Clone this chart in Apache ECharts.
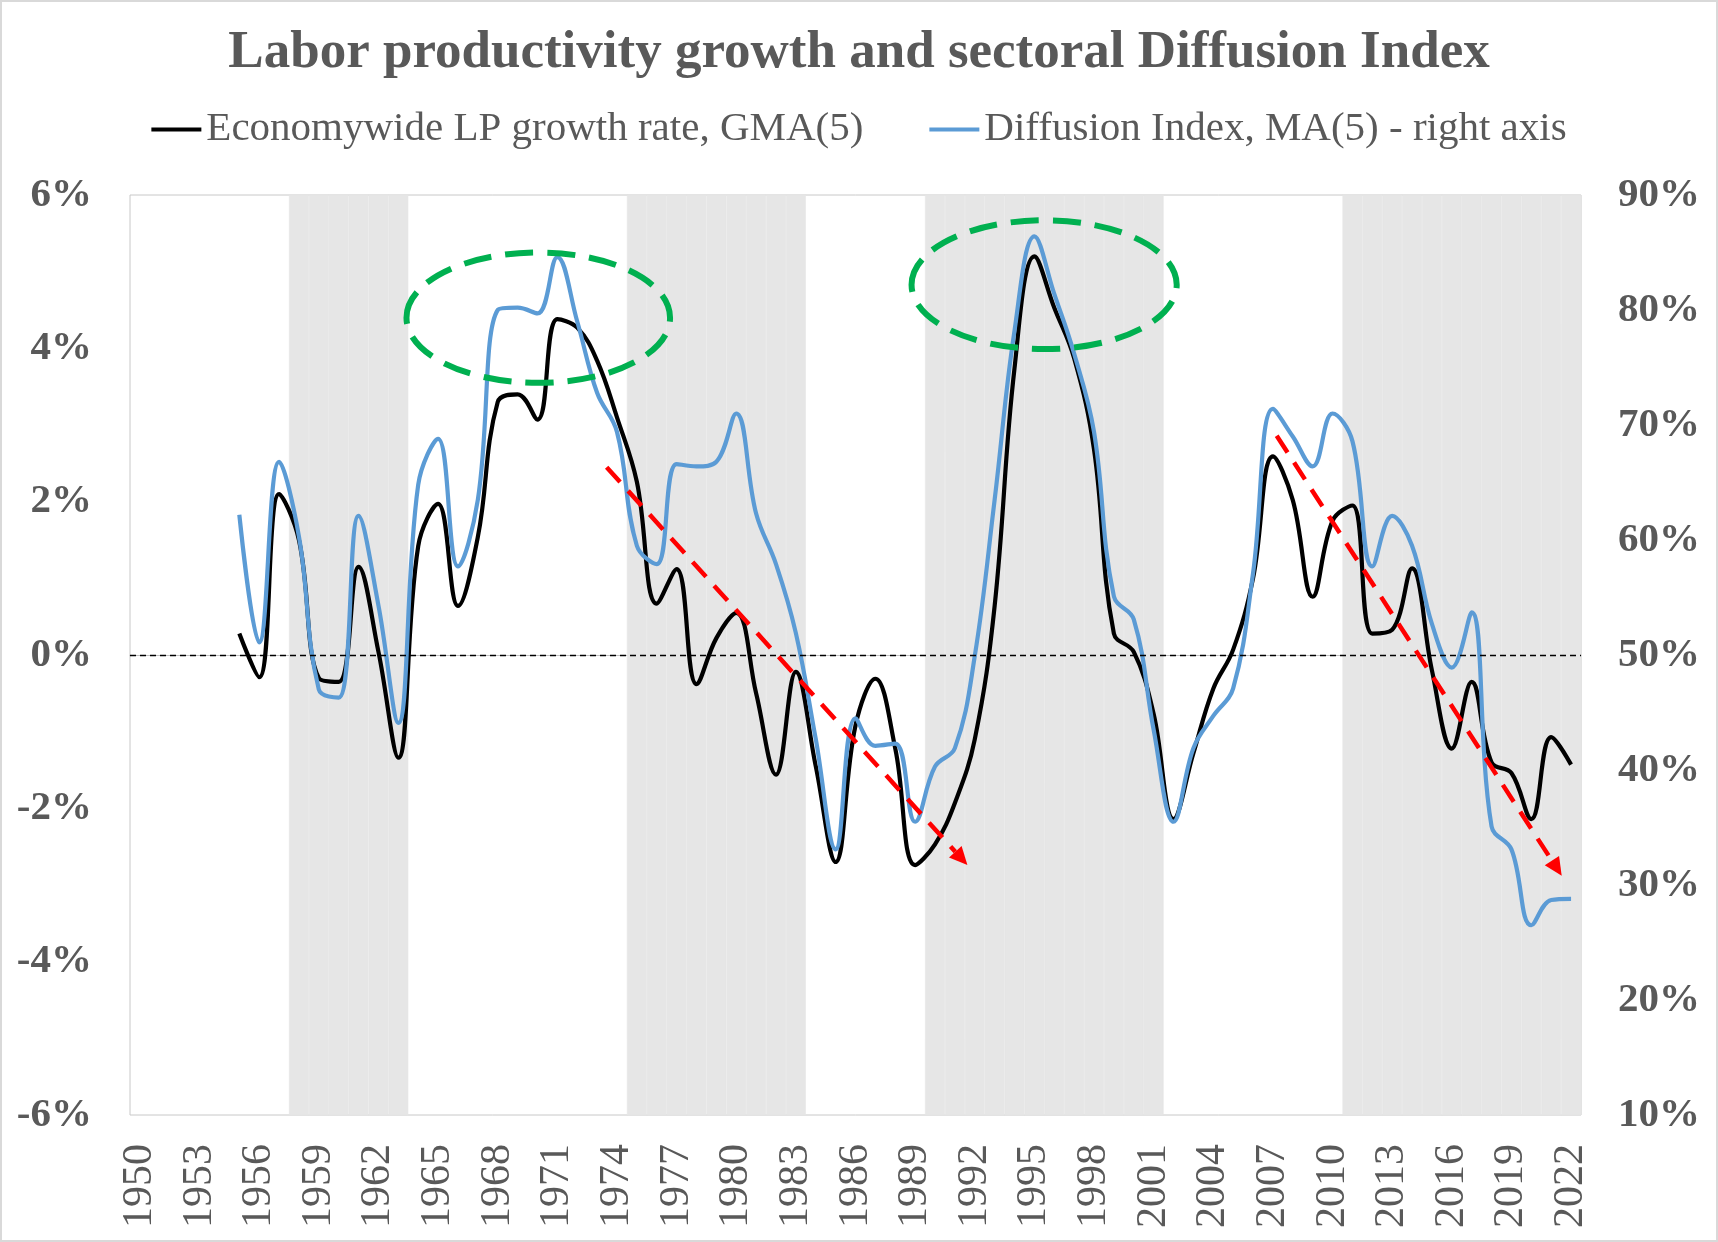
<!DOCTYPE html>
<html>
<head>
<meta charset="utf-8">
<script src="https://cdn.jsdelivr.net/npm/echarts@6/dist/echarts.min.js"></script>
<style>
html,body{margin:0;padding:0;background:#fff;}
#c{width:1718px;height:1242px;}
</style>
</head>
<body>
<div id="c"></div>
<script>
// ---------- DATA ----------
const years = ['1950','1951','1952','1953','1954','1955','1956','1957','1958','1959',
  '1960','1961','1962','1963','1964','1965','1966','1967','1968','1969',
  '1970','1971','1972','1973','1974','1975','1976','1977','1978','1979',
  '1980','1981','1982','1983','1984','1985','1986','1987','1988','1989',
  '1990','1991','1992','1993','1994','1995','1996','1997','1998','1999',
  '2000','2001','2002','2003','2004','2005','2006','2007','2008','2009',
  '2010','2011','2012','2013','2014','2015','2016','2017','2018','2019',
  '2020','2021','2022'];

// Economywide LP growth rate, GMA(5), % (left axis)
const lpGrowth = [null,null,null,null,null,
  0.28,-0.29,2.10,1.50,-0.30,
  -0.35,1.15,0.04,-1.34,1.42,1.97,0.64,1.54,3.30,3.40,
  3.07,4.38,4.27,3.84,3.10,2.26,0.67,1.12,-0.38,0.22,
  0.55,-0.50,-1.56,-0.22,-1.45,-2.70,-0.92,-0.31,-1.22,-2.74,
  -2.47,-1.93,-1.10,0.64,3.74,5.20,4.53,3.87,2.68,0.28,
  0.04,-0.77,-2.14,-1.28,-0.44,0.07,1.00,2.59,2.02,0.76,
  1.75,1.95,0.28,0.33,1.13,-0.20,-1.22,-0.35,-1.40,-1.54,
  -2.14,-1.07,-1.43];

// Diffusion Index, MA(5), % (right axis)
const diffusion = [null,null,null,null,null,
  62.2,51.1,66.8,60.3,47.0,
  46.3,62.1,54.3,44.1,64.8,68.8,57.7,63.5,80.0,80.2,
  79.7,84.6,79.0,72.8,69.4,59.5,57.9,66.6,66.4,66.8,
  71.0,62.3,57.9,51.9,42.7,33.1,44.5,42.1,42.3,35.5,
  40.3,41.9,49.9,63.5,78.2,86.4,81.4,76.2,69.4,55.1,
  53.1,43.5,35.5,41.9,44.7,47.1,57.1,71.4,69.0,66.4,
  71.0,68.6,57.7,62.1,59.5,52.7,48.9,53.7,35.1,33.1,
  26.5,28.7,28.8];

// shaded periods (first year, last year)
const shadedPeriods = [['1958','1963'],['1975','1983'],['1990','2001'],['2011','2022']];

// axis ticks
const leftTicks = {min:-6, max:6, step:2};
const rightTicks = {min:10, max:90, step:10};

// annotations (in data units: year, left-axis %)
const ellipseNotes = [
  {year:1970.04, value:4.40, halfYears:6.63, halfValue:0.85},
  {year:1995.49, value:4.83, halfYears:6.67, halfValue:0.84}
];
const arrowNotes = [
  {from:[1973.48, 2.45], to:[1991.63, -2.74]},
  {from:[2007.19, 2.86], to:[2021.53, -2.88]}
];

// ---------- CHART ----------
const shade = years.map(y => shadedPeriods.some(p => +y >= +p[0] && +y <= +p[1]) ? 1 : null);

const FONT = 'Liberation Serif';
const GRAY = '#595959';
const chart = echarts.init(document.getElementById('c'), null, {renderer:'canvas'});

const option = {
  backgroundColor:'#ffffff',
  animation:false,
  title:{
    text:'Labor productivity growth and sectoral Diffusion Index',
    left:'center', top:22,
    textStyle:{fontFamily:FONT, fontWeight:'bold', fontSize:53, color:GRAY}
  },
  legend:{
    data:['Economywide LP growth rate, GMA(5)','Diffusion Index, MA(5) - right axis'],
    top:104, left:'center',
    icon:'rect', itemWidth:50, itemHeight:4, itemGap:66,
    textStyle:{fontFamily:FONT, fontSize:41, color:GRAY}
  },
  grid:{left:130, right:137, top:195, bottom:127, containLabel:false, outerBoundsMode:'none',
        show:true, borderColor:'#c8c8c8', borderWidth:1, backgroundColor:'transparent'},
  xAxis:[
    {type:'category', data:years, boundaryGap:true,
     axisLine:{show:true, lineStyle:{color:'#bfbfbf', width:1}},
     axisTick:{show:false},
     axisLabel:{interval:2, rotate:90, color:GRAY, fontFamily:FONT, fontSize:42, margin:29},
     splitLine:{show:false}},
    {type:'value', min:1949.5, max:2022.5, show:false, splitLine:{show:false}}
  ],
  yAxis:[
    {type:'value', min:leftTicks.min, max:leftTicks.max, interval:leftTicks.step, position:'left',
     axisLine:{show:false}, axisTick:{show:false}, splitLine:{show:false},
     axisLabel:{formatter:'{value}%', color:GRAY, fontFamily:FONT, fontWeight:'bold', fontSize:41, margin:38}},
    {type:'value', min:rightTicks.min, max:rightTicks.max, interval:rightTicks.step, position:'right',
     axisLine:{show:false}, axisTick:{show:false}, splitLine:{show:false},
     axisLabel:{formatter:'{value}%', color:GRAY, fontFamily:FONT, fontWeight:'bold', fontSize:41, margin:37}},
    {type:'value', min:0, max:1, show:false, splitLine:{show:false}}
  ],
  series:[
    {name:'shade', type:'bar', xAxisIndex:0, yAxisIndex:2, data:shade,
     barWidth:'100%', barCategoryGap:'0%', silent:true, z:1,
     itemStyle:{color:'#e6e6e6', borderColor:'#e6e6e6', borderWidth:0.6}},
    {name:'Economywide LP growth rate, GMA(5)', type:'line', xAxisIndex:0, yAxisIndex:0,
     data:lpGrowth, smooth:0.4, symbol:'none', z:3,
     itemStyle:{color:'#000000'},
     lineStyle:{color:'#000000', width:4.2},
     markLine:{silent:true, symbol:'none', label:{show:false},
       lineStyle:{color:'#000000', width:1.3, type:[6,4]},
       data:[{yAxis:0}]}},
    {name:'Diffusion Index, MA(5) - right axis', type:'line', xAxisIndex:0, yAxisIndex:1,
     data:diffusion, smooth:0.4, symbol:'none', z:4,
     itemStyle:{color:'#5b9bd5'},
     lineStyle:{color:'#5b9bd5', width:4.2}}
  ]
};
chart.setOption(option);

// ---------- ANNOTATIONS ----------
function px(year, val){
  const x = chart.convertToPixel({xAxisIndex:1}, year);
  const y = chart.convertToPixel({yAxisIndex:0}, val);
  return [x, y];
}
const graphics = [];
ellipseNotes.forEach(e => {
  const c = px(e.year, e.value);
  const r = px(e.year + e.halfYears, e.value + e.halfValue);
  graphics.push({type:'ellipse', z:10, silent:true,
    shape:{cx:c[0], cy:c[1], rx:Math.abs(r[0]-c[0]), ry:Math.abs(c[1]-r[1])},
    style:{fill:null, stroke:'#00b050', lineWidth:6, lineDash:[28,14]}});
});
arrowNotes.forEach(a => {
  const p0 = px(a.from[0], a.from[1]);
  const p1 = px(a.to[0], a.to[1]);
  const dx = p1[0]-p0[0], dy = p1[1]-p0[1];
  const len = Math.sqrt(dx*dx+dy*dy);
  const ux = dx/len, uy = dy/len;
  const L = 18, W = 17;
  const bx = p1[0]-ux*L, by = p1[1]-uy*L;
  graphics.push({type:'line', z:10, silent:true,
    shape:{x1:p0[0], y1:p0[1], x2:bx, y2:by},
    style:{stroke:'#ff0000', lineWidth:4.5, lineDash:[20,12]}});
  graphics.push({type:'polygon', z:10, silent:true,
    shape:{points:[[p1[0],p1[1]],[bx - uy*W/2, by + ux*W/2],[bx + uy*W/2, by - ux*W/2]]},
    style:{fill:'#ff0000'}});
});
graphics.push({type:'rect', z:0, silent:true,
  shape:{x:1, y:1, width:1716, height:1240},
  style:{fill:null, stroke:'#d9d9d9', lineWidth:2}});
chart.setOption({graphic:graphics});
</script>
</body>
</html>
